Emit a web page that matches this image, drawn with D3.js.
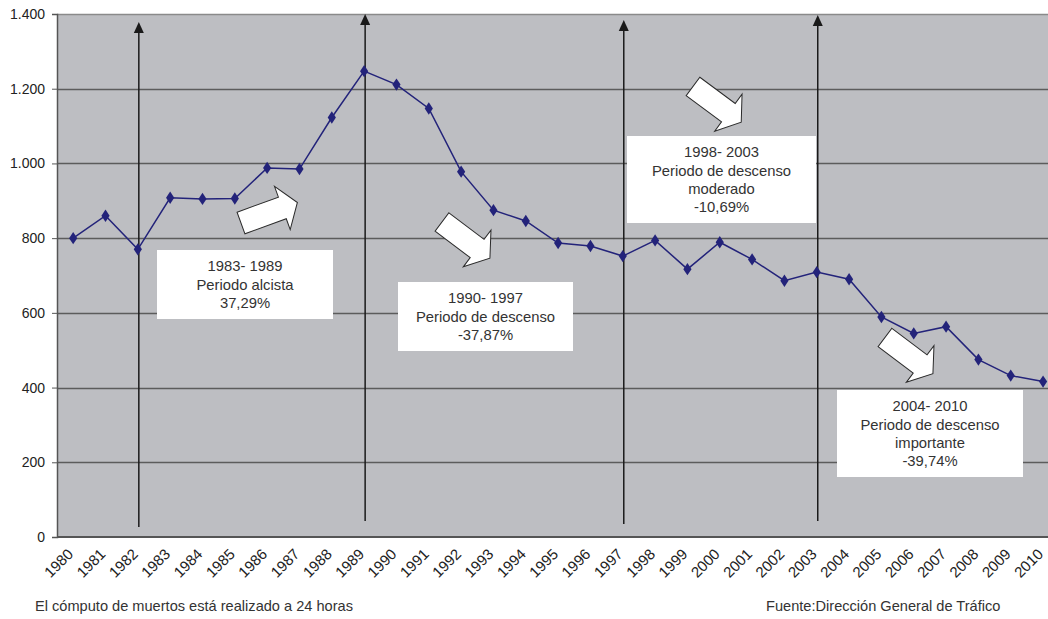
<!DOCTYPE html>
<html>
<head>
<meta charset="utf-8">
<script src="https://cdn.jsdelivr.net/npm/d3@7"></script>
<style>
  body { margin: 0; background: #fff; }
  svg { display: block; font-family: "Liberation Sans", Arial, sans-serif; }
</style>
</head>
<body>
<svg id="chart" width="1048" height="619"></svg>
<script>
const years = ["1980","1981","1982","1983","1984","1985","1986","1987","1988","1989","1990","1991","1992","1993","1994","1995","1996","1997","1998","1999","2000","2001","2002","2003","2004","2005","2006","2007","2008","2009","2010"];
const deaths = [800, 860, 770, 908, 905, 906, 988, 985, 1123, 1247, 1211, 1147, 978, 875, 846, 787, 779, 752, 794, 717, 789, 743, 686, 709, 690, 589, 545, 563, 475, 432, 416];
const yTicks = [0, 200, 400, 600, 800, 1000, 1200, 1400];
const yTickLabels = ["0", "200", "400", "600", "800", "1.000", "1.200", "1.400"];
const markerYears = ["1982", "1989", "1997", "2003"];
const boxTexts = [
  ["1983- 1989", "Periodo alcista", "37,29%"],
  ["1990- 1997", "Periodo de descenso", "-37,87%"],
  ["1998- 2003", "Periodo de descenso", "moderado", "-10,69%"],
  ["2004- 2010", "Periodo de descenso", "importante", "-39,74%"]
];
const footLeft = "El cómputo de muertos está realizado a 24 horas";
const footRight = "Fuente:Dirección General de Tráfico";

// layout (pixels)
const plotL = 57, plotT = 14, plotB = 537, step = 32.33;
const vArrowEnds = [[527, 22], [521, 14], [524, 20], [521, 15]];
const boxRects = [[157, 250, 176, 69], [398, 282, 175, 69], [627, 136, 189, 87], [837, 390, 186, 87]];
const blockArrows = [[241, 223, -20], [442, 222, 37], [693, 86.5, 36.5], [885, 337.5, 37]];

const svg = d3.select("#chart");
const x = d3.scaleBand().domain(years).range([plotL, plotL + step * years.length]).paddingInner(0).paddingOuter(0);
const y = d3.scaleLinear().domain([0, 1400]).range([plotB, plotT]);
const cx = d => x(d) + x.bandwidth() / 2;

// background
svg.append("rect").attr("x", plotL).attr("y", plotT)
  .attr("width", 1048 - plotL).attr("height", plotB - plotT).attr("fill", "#bdbec2");

// gridlines
const grid = svg.append("g");
yTicks.filter(t => t > 0).forEach(t => {
  grid.append("line").attr("x1", plotL).attr("x2", 1048)
    .attr("y1", Math.round(y(t)) + 0.5).attr("y2", Math.round(y(t)) + 0.5)
    .attr("stroke", t === 1400 ? "#8a8a8a" : "#5c5c5c").attr("stroke-width", 1.3);
});

// y axis
const yAxis = d3.axisLeft(y).tickValues(yTicks)
  .tickFormat((d, i) => yTickLabels[i]).tickSize(5).tickPadding(7);
const gy = svg.append("g").attr("transform", `translate(${plotL},0)`).call(yAxis);
gy.select(".domain").attr("stroke", "#555").attr("stroke-width", 1.5);
gy.selectAll(".tick line").attr("stroke", "#555");
gy.selectAll(".tick text").attr("font-size", 14).attr("fill", "#222")
  .attr("font-family", "Liberation Sans, Arial, sans-serif");

// x axis line
svg.append("line").attr("x1", plotL).attr("x2", 1048).attr("y1", plotB).attr("y2", plotB)
  .attr("stroke", "#555").attr("stroke-width", 2);

// x labels
const gx = svg.append("g");
years.forEach(yr => {
  gx.append("text")
    .attr("transform", `translate(${cx(yr) + 1},${plotB + 18}) rotate(-45)`)
    .attr("text-anchor", "end").attr("font-size", 15).attr("fill", "#222")
    .text(yr);
});

// vertical arrows
markerYears.forEach((yr, i) => {
  svg.append("line").attr("x1", cx(yr) + 1).attr("x2", cx(yr) + 1)
    .attr("y1", vArrowEnds[i][0]).attr("y2", vArrowEnds[i][1] + 4)
    .attr("stroke", "#1a1a1a").attr("stroke-width", 1.5);
  svg.append("path")
    .attr("d", `M${cx(yr) + 1},${vArrowEnds[i][1]} l-5,11 l10,0 Z`)
    .attr("fill", "#1a1a1a");
});

// line
const line = d3.line().x((d, i) => cx(years[i])).y(d => y(d));
svg.append("path").datum(deaths).attr("d", line)
  .attr("fill", "none").attr("stroke", "#23237a").attr("stroke-width", 1.5);
svg.append("g").selectAll("path").data(deaths).join("path")
  .attr("d", d3.symbol(d3.symbolDiamond, 44))
  .attr("transform", (d, i) => `translate(${cx(years[i])},${y(d)}) scale(1.15,1)`)
  .attr("fill", "#23237a");

// block arrows
const L = 60, sw = 11.5, hw = 23, hb = 44;
const arrowPts = [[0, -sw], [hb, -sw], [hb, -hw], [L, 0], [hb, hw], [hb, sw], [0, sw]];
blockArrows.forEach(([ax, ay, ang]) => {
  svg.append("polygon")
    .attr("points", arrowPts.map(p => p.join(",")).join(" "))
    .attr("transform", `translate(${ax},${ay}) rotate(${ang})`)
    .attr("fill", "#fff").attr("stroke", "#2a2a2a").attr("stroke-width", 1)
    .attr("stroke-linejoin", "miter");
});

// text boxes
boxTexts.forEach((lines, i) => {
  const [bx, by, bw, bh] = boxRects[i];
  svg.append("rect").attr("x", bx).attr("y", by).attr("width", bw).attr("height", bh).attr("fill", "#fff");
  const lh = 18.3;
  const startY = by + bh / 2 - (lines.length - 1) * lh / 2;
  lines.forEach((t, j) => {
    svg.append("text").attr("x", bx + bw / 2).attr("y", startY + j * lh)
      .attr("dy", "0.35em").attr("text-anchor", "middle")
      .attr("font-size", 14.8).attr("fill", "#333").text(t);
  });
});

// footnotes
svg.append("text").attr("x", 35).attr("y", 611).attr("font-size", 14.6).attr("fill", "#333").text(footLeft);
svg.append("text").attr("x", 766).attr("y", 611).attr("font-size", 14.6).attr("fill", "#333").text(footRight);
</script>
</body>
</html>
